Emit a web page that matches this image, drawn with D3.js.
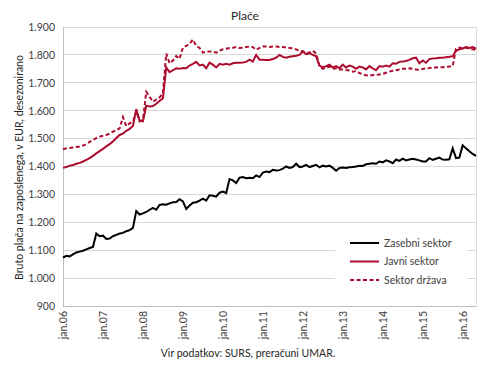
<!DOCTYPE html>
<html><head><meta charset="utf-8">
<script src="https://cdn.jsdelivr.net/npm/d3@7"></script>
<style>body{margin:0;background:#fff}svg{display:block}text{font-family:Lato,"Open Sans",sans-serif}</style>
</head><body><svg id="c" width="490" height="366"></svg>
<script>
const yearLabels = ["jan.06","jan.07","jan.08","jan.09","jan.10","jan.11","jan.12","jan.13","jan.14","jan.15","jan.16"];
const yTicks = [900,1000,1100,1200,1300,1400,1500,1600,1700,1800,1900];
const seriesNames = ["Zasebni sektor","Javni sektor","Sektor država"];
const zasebni = [
1073,1080,1078,1085,1092,1095,1098,1103,1108,1112,1160,1150,
1152,1140,1142,1150,1155,1160,1162,1168,1172,1180,1240,1228,
1232,1237,1245,1252,1245,1262,1265,1263,1268,1272,1273,1283,
1275,1248,1260,1270,1272,1278,1285,1278,1297,1295,1292,1306,
1310,1305,1355,1350,1341,1360,1362,1358,1360,1358,1368,1362,
1378,1382,1380,1388,1386,1387,1392,1400,1395,1398,1410,1398,
1400,1406,1398,1402,1406,1397,1403,1400,1403,1395,1385,1395,
1396,1395,1397,1398,1400,1403,1402,1408,1410,1412,1410,1418,
1415,1422,1418,1412,1425,1420,1428,1422,1425,1428,1425,1422,
1418,1418,1430,1424,1428,1432,1425,1424,1426,1465,1430,1432,
1476,1465,1455,1445,1438];
const javni = [
1395,1398,1403,1405,1410,1413,1418,1424,1430,1438,1447,1455,
1463,1472,1480,1490,1502,1513,1518,1528,1535,1545,1605,1565,
1562,1618,1615,1617,1625,1635,1645,1755,1738,1745,1752,1750,
1753,1752,1762,1768,1775,1762,1765,1752,1772,1765,1755,1768,
1765,1768,1765,1770,1772,1772,1773,1775,1783,1776,1800,1783,
1783,1782,1782,1785,1790,1800,1793,1790,1793,1795,1797,1800,
1812,1803,1806,1800,1795,1762,1755,1760,1765,1755,1760,1752,
1765,1755,1762,1758,1750,1758,1755,1748,1760,1752,1745,1760,
1758,1762,1758,1770,1768,1775,1776,1778,1782,1788,1790,1770,
1780,1772,1785,1787,1788,1790,1790,1792,1793,1795,1815,1820,
1823,1828,1825,1828,1822];
const drzava = [
1462,1465,1466,1468,1470,1472,1475,1480,1488,1495,1502,1507,
1510,1513,1518,1525,1530,1537,1577,1545,1555,1560,1597,1562,
1567,1668,1650,1632,1640,1648,1662,1805,1770,1780,1796,1786,
1826,1832,1840,1855,1832,1825,1808,1812,1812,1812,1808,1815,
1820,1822,1825,1826,1828,1825,1826,1828,1830,1828,1818,1825,
1830,1830,1828,1830,1830,1828,1828,1826,1825,1824,1820,1815,
1813,1808,1808,1815,1805,1760,1750,1755,1758,1750,1752,1748,
1748,1746,1744,1740,1742,1735,1730,1727,1726,1728,1728,1730,
1732,1736,1740,1743,1745,1748,1750,1750,1752,1750,1748,1746,
1750,1752,1753,1755,1755,1756,1756,1757,1758,1760,1822,1826,
1824,1826,1822,1820,1818];

const svg = d3.select("#c");
const L = 63, R = 476, T = 27, B = 306;
const x = d3.scaleLinear().domain([0, zasebni.length - 1]).range([L, R]);
const y = d3.scaleLinear().domain([900, 1900]).range([B, T]);
const red = "#ad0c2e";

// gridlines
svg.append("g").selectAll("line").data(yTicks).join("line")
  .attr("x1", L).attr("x2", R).attr("y1", d => y(d)).attr("y2", d => y(d))
  .attr("stroke", "#d9d9d9").attr("stroke-width", 1).attr("shape-rendering","crispEdges");
// frame
svg.append("rect").attr("x", L).attr("y", T).attr("width", R - L).attr("height", B - T)
  .attr("fill", "none").attr("stroke", "#d9d9d9").attr("shape-rendering","crispEdges");
svg.append("line").attr("x1", L).attr("x2", L).attr("y1", T).attr("y2", B).attr("stroke", "#bfbfbf").attr("shape-rendering","crispEdges");
svg.append("line").attr("x1", L).attr("x2", R).attr("y1", B).attr("y2", B).attr("stroke", "#bfbfbf").attr("shape-rendering","crispEdges");

// y axis
const yAxis = d3.axisLeft(y).tickValues(yTicks).tickSize(0).tickPadding(8)
  .tickFormat(d => d3.format(",")(d).replace(",", "."));
const gy = svg.append("g").attr("transform", `translate(${L},0)`).call(yAxis);
gy.select(".domain").remove();
gy.selectAll("text").attr("font-size", 10.5).attr("fill", "#404040").style("font-family","Lato");

// x axis
const xTickIdx = yearLabels.map((d, i) => i * 12);
const xAxis = d3.axisBottom(x).tickValues(xTickIdx).tickSize(0).tickFormat((d, i) => yearLabels[i]);
const gx = svg.append("g").attr("transform", `translate(0,${B})`).call(xAxis);
gx.select(".domain").remove();
gx.selectAll("text").attr("font-size", 10.5).attr("fill", "#404040").style("font-family","Lato")
  .attr("transform", "rotate(-90)").attr("text-anchor", "end")
  .attr("x", -5).attr("y", 0).attr("dy", "0.35em");

// lines
const line = d3.line().x((d, i) => x(i)).y(d => y(d));
svg.append("path").datum(drzava).attr("d", line).attr("fill", "none")
  .attr("stroke", red).attr("stroke-width", 2).attr("stroke-dasharray", "4,2.5");
svg.append("path").datum(javni).attr("d", line).attr("fill", "none")
  .attr("stroke", red).attr("stroke-width", 2);
svg.append("path").datum(zasebni).attr("d", line).attr("fill", "none")
  .attr("stroke", "#000").attr("stroke-width", 2);

// legend
const lg = svg.append("g");
lg.append("rect").attr("x", 335).attr("y", 233).attr("width", 132).attr("height", 57).attr("fill", "#fff");
const styles = [{c:"#000",d:null},{c:red,d:null},{c:red,d:"4,2.5"}];
seriesNames.forEach((n, i) => {
  const yy = 243 + i * 18.5;
  lg.append("line").attr("x1", 350).attr("x2", 379).attr("y1", yy).attr("y2", yy)
    .attr("stroke", styles[i].c).attr("stroke-width", 2).attr("stroke-dasharray", styles[i].d);
  lg.append("text").attr("x", 384).attr("y", yy).attr("dy", "0.35em")
    .attr("font-size", 10.5).attr("fill", "#404040").text(n);
});

// title
svg.append("text").attr("x", 245).attr("y", 20).attr("text-anchor", "middle")
  .attr("font-size", 12).attr("fill", "#262626").text("Plače");
// y title
svg.append("text").attr("transform", `translate(19,${(T + B) / 2 + 1}) rotate(-90)`)
  .attr("text-anchor", "middle").attr("dy", "0.35em").attr("font-size", 10.5).attr("fill", "#262626")
  .text("Bruto plača na zaposlenega, v EUR, desezonirano");
// source
svg.append("text").attr("x", 248).attr("y", 357).attr("text-anchor", "middle")
  .attr("font-size", 10.5).attr("fill", "#262626").text("Vir podatkov: SURS, preračuni UMAR.");
</script></body></html>
